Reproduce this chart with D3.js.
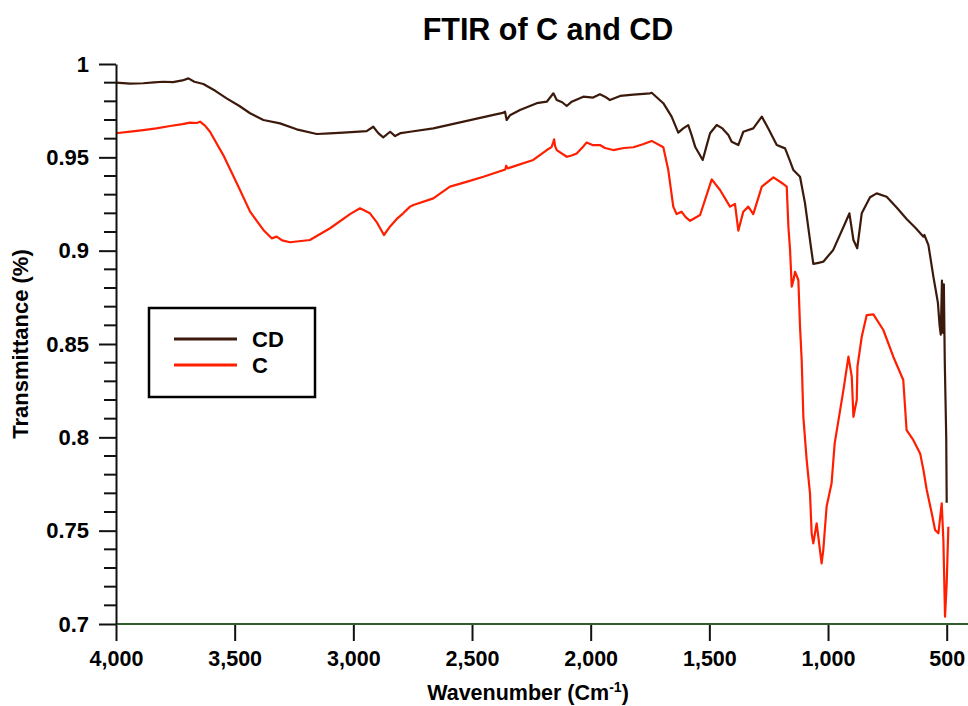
<!DOCTYPE html>
<html><head><meta charset="utf-8">
<script src="https://cdn.jsdelivr.net/npm/d3@7"></script>
<style>body{margin:0;background:#fff}svg{display:block;font-family:"Liberation Sans",Arial,sans-serif}</style>
</head><body><svg id="c" width="968" height="706"></svg>
<script>
const chartTitle = "FTIR of C and CD";
const xTicks = [4000,3500,3000,2500,2000,1500,1000,500];
const yTicks = [1,0.95,0.9,0.85,0.8,0.75,0.7];
const seriesNames = ["CD","C"];
const seriesColors = ["#3b1a0c","#ff1f00"];
// CD: [wavenumber, transmittance]
const cdPoints = [[4000,.990],[3940,.9895],[3885,.9897],[3840,.9902],[3801,.9905],[3760,.9903],[3720,.9912],[3695,.9923],[3670,.9905],[3632,.9893],[3580,.9855],[3534,.9816],[3480,.9775],[3435,.9736],[3379,.970],[3309,.9682],[3239,.965],[3154,.9625],[3100,.9628],[3042,.9632],[2944,.964],[2916,.9664],[2895,.963],[2874,.9607],[2845,.9637],[2824,.9614],[2800,.963],[2761,.9637],[2663,.9655],[2522,.9695],[2400,.973],[2370,.9738],[2361,.9745],[2354,.970],[2340,.9725],[2298,.9754],[2227,.979],[2185,.9798],[2157,.9843],[2143,.9807],[2120,.9795],[2101,.9775],[2080,.9798],[2031,.9825],[1990,.982],[1961,.9838],[1940,.9825],[1919,.9807],[1876,.9829],[1820,.9836],[1750,.9843],[1743,.9846],[1694,.979],[1659,.9718],[1631,.9632],[1610,.9655],[1589,.9673],[1575,.962],[1560,.9557],[1528,.9486],[1512,.956],[1497,.9629],[1469,.9673],[1445,.9655],[1420,.962],[1406,.9584],[1378,.9566],[1357,.9637],[1315,.9655],[1279,.9718],[1250,.965],[1216,.9566],[1181,.9548],[1160,.948],[1146,.9432],[1118,.9396],[1097,.9254],[1076,.9057],[1062,.8929],[1040,.8935],[1020,.8941],[978,.9004],[928,.9147],[910,.92],[893,.9057],[877,.9013],[858,.92],[823,.9286],[795,.9307],[753,.9289],[710,.923],[668,.9168],[630,.912],[598,.9075],[594,.9084],[577,.903],[556,.886],[545,.878],[537,.872],[530,.86],[525,.855],[520,.884],[516,.856],[512,.882],[508,.84],[505,.82],[502,.80],[500,.765]];
// C: [wavenumber, transmittance]
const cPoints = [[4000,.9629],[3940,.9638],[3885,.9646],[3830,.9655],[3772,.9668],[3720,.9678],[3688,.9686],[3660,.9684],[3646,.9691],[3625,.967],[3604,.9637],[3548,.9512],[3491,.9361],[3435,.9209],[3379,.9111],[3344,.9066],[3323,.9075],[3300,.9055],[3267,.9045],[3183,.9057],[3098,.912],[3014,.9196],[2972,.9227],[2930,.92],[2900,.915],[2871,.9084],[2845,.913],[2817,.917],[2790,.920],[2761,.9236],[2747,.9245],[2663,.928],[2593,.9343],[2520,.937],[2452,.9396],[2360,.9435],[2356,.9455],[2350,.9441],[2242,.9486],[2185,.9539],[2165,.9555],[2158,.958],[2154,.9596],[2150,.956],[2143,.9539],[2101,.9503],[2080,.951],[2059,.9521],[2030,.956],[2017,.9579],[1990,.9565],[1961,.9566],[1940,.955],[1905,.9539],[1860,.955],[1820,.9554],[1780,.957],[1743,.9588],[1694,.9554],[1673,.9432],[1652,.9236],[1638,.9196],[1617,.9209],[1600,.918],[1581,.916],[1539,.9191],[1490,.9382],[1455,.9325],[1413,.9236],[1392,.925],[1378,.9107],[1357,.9209],[1336,.9236],[1315,.9196],[1279,.9343],[1230,.9393],[1188,.9357],[1174,.9343],[1167,.9128],[1160,.9004],[1153,.8807],[1146,.884],[1139,.8887],[1125,.8843],[1118,.8593],[1111,.8414],[1104,.811],[1090,.7879],[1076,.77],[1069,.7486],[1062,.7432],[1048,.7539],[1041,.7468],[1027,.7325],[1020,.7396],[1006,.7629],[985,.7754],[972,.7968],[949,.8146],[935,.8254],[914,.8432],[900,.8325],[893,.811],[879,.82],[876,.8379],[858,.8539],[837,.8655],[809,.8659],[767,.8575],[725,.8432],[683,.8307],[669,.8039],[641,.7986],[612,.7914],[598,.7825],[584,.7718],[563,.7593],[549,.7504],[535,.7486],[521,.7646],[514,.745],[507,.7039],[500,.7218],[493,.7521]];

const svg = d3.select("#c");
const x = d3.scaleLinear().domain([4000,500]).range([116,946.7]);
const y = d3.scaleLinear().domain([1,0.7]).range([64,624]);

svg.append("text").attr("x",548).attr("y",40).attr("text-anchor","middle")
  .attr("font-size",30.5).attr("font-weight","bold").text(chartTitle);

// lines
const line = d3.line().x(d=>x(d[0])).y(d=>y(d[1]));
svg.append("path").datum(cPoints).attr("d",line).attr("fill","none")
  .attr("stroke",seriesColors[1]).attr("stroke-width",2.2).attr("stroke-linejoin","round");
svg.append("path").datum(cdPoints).attr("d",line).attr("fill","none")
  .attr("stroke",seriesColors[0]).attr("stroke-width",2.2).attr("stroke-linejoin","round");

// x axis
const gx = svg.append("g").attr("transform",`translate(0,${y(0.7)})`)
  .call(d3.axisBottom(x).tickValues(xTicks).tickSize(17).tickSizeOuter(0).tickFormat(d3.format(",")));
gx.select(".domain").remove();
gx.selectAll(".tick line").attr("stroke","#111").attr("stroke-width",2);
gx.selectAll(".tick text").attr("font-size",21.5).attr("font-weight","bold").attr("fill","#000")
  .attr("font-family","'Liberation Sans',Arial,sans-serif").attr("y",27).attr("dy","0.71em");
svg.append("line").attr("x1",x(4000)).attr("x2",968).attr("y1",y(0.7)).attr("y2",y(0.7))
  .attr("stroke","#2f5f2a").attr("stroke-width",2);

// y axis
const gy = svg.append("g").attr("transform",`translate(${x(4000)},0)`)
  .call(d3.axisLeft(y).tickValues(yTicks).tickSize(17).tickSizeOuter(0).tickFormat(d=>String(d)));
gy.select(".domain").attr("stroke","#111").attr("stroke-width",2);
gy.selectAll(".tick line").attr("stroke","#111").attr("stroke-width",2);
gy.selectAll(".tick text").attr("font-size",22).attr("font-weight","bold").attr("fill","#000")
  .attr("font-family","'Liberation Sans',Arial,sans-serif").attr("x",-27);
const minor = d3.range(70,101).map(d=>d/100).filter(d=>!yTicks.some(t=>Math.abs(t-d)<1e-9));
svg.append("g").selectAll("line").data(minor).join("line")
  .attr("x1",x(4000)-12).attr("x2",x(4000)).attr("y1",d=>y(d)).attr("y2",d=>y(d))
  .attr("stroke","#111").attr("stroke-width",2);

// axis titles
const xl = svg.append("text").attr("x",528).attr("y",700).attr("text-anchor","middle")
  .attr("font-size",21.5).attr("font-weight","bold");
xl.append("tspan").text("Wavenumber (Cm");
xl.append("tspan").attr("font-size",14).attr("dy",-8).text("-1");
xl.append("tspan").attr("dy",8).text(")");
svg.append("text").attr("transform","translate(28,344) rotate(-90)").attr("text-anchor","middle")
  .attr("font-size",22).attr("font-weight","bold").text("Transmittance (%)");

// legend
const lg = svg.append("g");
lg.append("rect").attr("x",149).attr("y",308).attr("width",166).attr("height",89)
  .attr("fill","#fff").attr("stroke","#000").attr("stroke-width",2.5);
seriesNames.forEach((n,i)=>{
  const yy = 339 + i*26;
  lg.append("line").attr("x1",174).attr("x2",237).attr("y1",yy).attr("y2",yy)
    .attr("stroke",seriesColors[i]).attr("stroke-width",3);
  lg.append("text").attr("x",252).attr("y",yy+8).attr("font-size",22).attr("font-weight","bold").text(n);
});
</script></body></html>
